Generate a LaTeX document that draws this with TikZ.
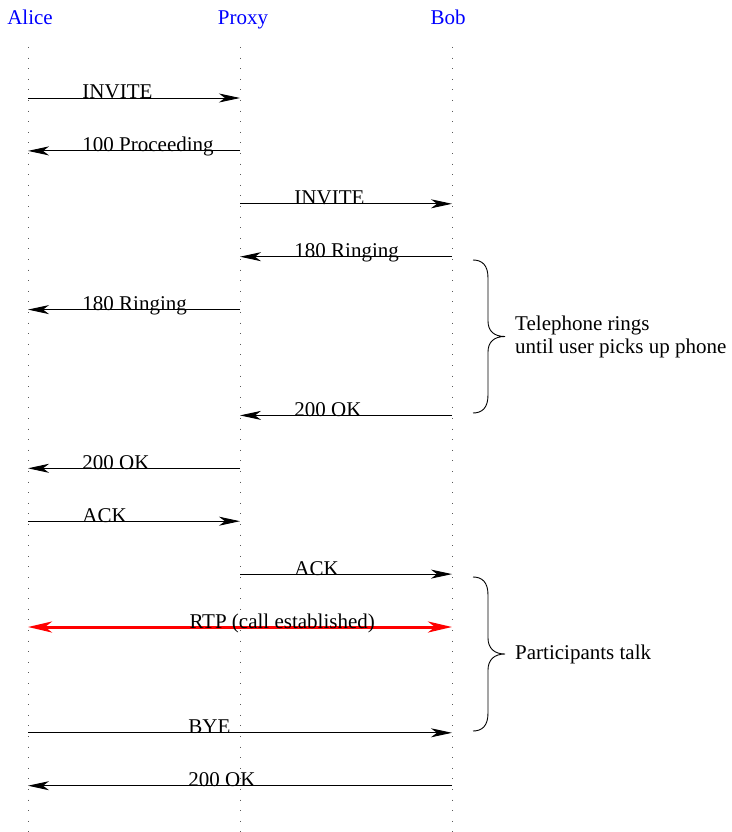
\documentclass[tikz,border=0pt]{standalone}
\usepackage{fontspec}
\setmainfont{Liberation Serif}
\usetikzlibrary{arrows.meta}
\begin{document}
\begin{tikzpicture}[x=1pt,y=-1pt,
  txt/.style={font=\fontsize{21}{23}\selectfont, inner sep=0pt},
  actor/.style={txt, text=blue, anchor=base},
  lifeline/.style={line width=1pt, black!65, dash pattern=on 1pt off 9.6pt},
  msg/.style={line width=0.9pt, -{Stealth[length=21pt,width=9pt,inset=6pt]}},
  rtp/.style={red, line width=3pt, {Stealth[length=24pt,width=11pt,inset=7pt]}-{Stealth[length=24pt,width=11pt,inset=7pt]}},
  lbl/.style={txt, anchor=base west, xshift=-52pt, yshift=-1pt},
  note/.style={txt, anchor=west, align=left},
  curly/.style={line width=0.9pt}]
\useasboundingbox (0,0) rectangle (731,832);

% participants
\node[actor] (alice) at (30,25) {Alice};
\node[actor] (proxy) at (243,25) {Proxy};
\node[actor] (bob)   at (448,25) {Bob};

% lifelines
\coordinate (a0) at (28,47);   \coordinate (aend) at (28,832);
\coordinate (p0) at (240,47);  \coordinate (pend) at (240,832);
\coordinate (b0) at (452,47);  \coordinate (bend) at (452,832);
\draw[lifeline] (a0) -- (aend);
\draw[lifeline] (p0) -- (pend);
\draw[lifeline] (b0) -- (bend);

% message rows on each lifeline
\foreach \k in {1,...,14}{
  \coordinate (a\k) at (28,{45.1+52.9*\k});
  \coordinate (p\k) at (240,{45.1+52.9*\k});
  \coordinate (b\k) at (452,{45.1+52.9*\k});
}

% messages
\draw[msg] (a1) -- (p1) node[midway,lbl] {INVITE};
\draw[msg] (p2) -- (a2) node[midway,lbl] {100 Proceeding};
\draw[msg] (p3) -- (b3) node[midway,lbl] {INVITE};
\draw[msg] (b4) -- (p4) node[midway,lbl] {180 Ringing};
\draw[msg] (p5) -- (a5) node[midway,lbl] {180 Ringing};
\draw[msg] (b7) -- (p7) node[midway,lbl] {200 OK};
\draw[msg] (p8) -- (a8) node[midway,lbl] {200 OK};
\draw[msg] (a9) -- (p9) node[midway,lbl] {ACK};
\draw[msg] (p10) -- (b10) node[midway,lbl] {ACK};
\draw[rtp] (a11) -- (b11) node[midway,lbl,text=black] {RTP (call established)};
\draw[msg] (a13) -- (b13) node[midway,lbl] {BYE};
\draw[msg] (b14) -- (a14) node[midway,lbl] {200 OK};

% braces with notes
\draw[curly] (473,260) .. controls (482,260) and (488,265) .. (488,278)
  -- (488,321) .. controls (488,331) and (494,336.5) .. (505,336.5)
  .. controls (494,336.5) and (488,342) .. (488,352)
  -- (488,395) .. controls (488,408) and (482,413) .. (473,413);
\node[note] (ring) at (515,337) {Telephone rings\\until user picks up phone};

\draw[curly] (473,577) .. controls (482,577) and (488,582) .. (488,595)
  -- (488,638) .. controls (488,648) and (494,654) .. (505,654)
  .. controls (494,654) and (488,660) .. (488,670)
  -- (488,713) .. controls (488,726) and (482,731) .. (473,731);
\node[note] (talk) at (515,654) {Participants talk};
\end{tikzpicture}
\end{document}
